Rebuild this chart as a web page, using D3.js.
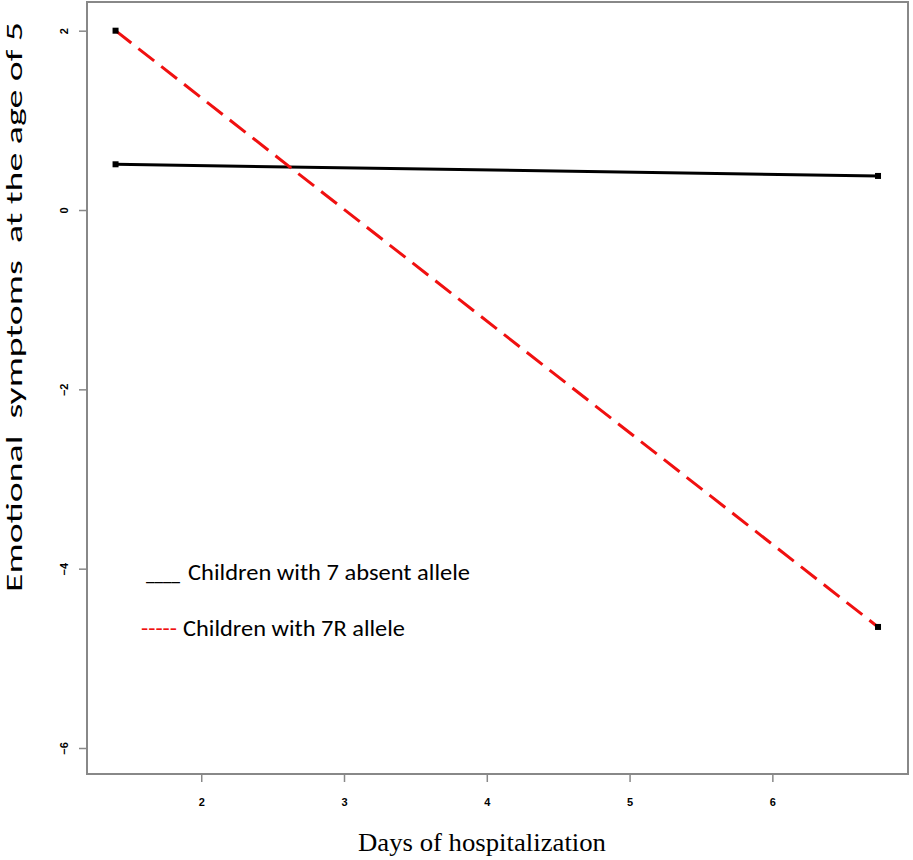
<!DOCTYPE html>
<html lang="en">
<head>
    <meta charset="UTF-8">
    <title>Emotional symptoms</title>
    <script src="https://cdn.jsdelivr.net/npm/d3@7"></script>
    <style>
        body { margin: 0; background: #fff; }
    </style>
</head>
<body>
<script type="text/javascript">
    // data
    var groups = ['Children with 7 absent allele', 'Children with 7R allele'];
    var days = [1.4, 6.74];
    var absentValues = [0.51, 0.38];
    var sevenRValues = [2.0, -4.65];
    var xTicks = [2, 3, 4, 5, 6];
    var yTicks = [2, 0, -2, -4, -6];

    var width = 913;
    var height = 860;
    var margin = {left: 87, top: 2, right: 5, bottom: 86};

    var svg = d3.select('body').append('svg')
            .attr('width', width)
            .attr('height', height);

    var x = d3.scaleLinear()
            .domain([1.2, 6.95])
            .range([margin.left, width - margin.right]);
    var y = d3.scaleLinear()
            .domain([-6.29, 2.32])
            .range([height - margin.bottom, margin.top]);

    // plot frame
    svg.append('rect')
            .attr('x', x.range()[0])
            .attr('y', y.range()[1])
            .attr('width', x.range()[1] - x.range()[0])
            .attr('height', y.range()[0] - y.range()[1])
            .attr('fill', 'none')
            .attr('stroke', '#888')
            .attr('stroke-width', 2);

    var xAxis = svg.append('g')
            .attr('transform', 'translate(0,' + y.range()[0] + ')')
            .call(d3.axisBottom(x).tickValues(xTicks).tickSize(8).tickPadding(16).tickFormat(d3.format('d')));
    var yAxis = svg.append('g')
            .attr('transform', 'translate(' + x.range()[0] + ',0)')
            .call(d3.axisLeft(y).tickValues(yTicks).tickSize(8).tickFormat(d3.format('d')));

    [xAxis, yAxis].forEach(function (g) {
        g.select('.domain').remove();
        g.selectAll('.tick line').attr('stroke', '#888').attr('stroke-width', 1.5);
        g.selectAll('.tick text')
                .attr('fill', '#000')
                .attr('font-family', 'Liberation Sans, Arial, sans-serif')
                .attr('font-weight', 'bold')
                .attr('font-size', '11px');
    });
    yAxis.selectAll('.tick text')
            .attr('x', null).attr('dy', null)
            .attr('text-anchor', 'middle')
            .attr('transform', 'translate(-23,0) rotate(-90)')
            .attr('dy', '0.35em');

    // series
    var line = d3.line()
            .x(function (d) { return x(d[0]); })
            .y(function (d) { return y(d[1]); });
    var series = [
        {values: d3.zip(days, absentValues), color: '#000', dash: null},
        {values: d3.zip(days, sevenRValues), color: '#f01010', dash: '20,9'}
    ];
    svg.selectAll('path.series')
            .data(series)
            .enter()
            .append('path')
            .attr('class', 'series')
            .attr('d', function (d) { return line(d.values); })
            .attr('fill', 'none')
            .attr('stroke', function (d) { return d.color; })
            .attr('stroke-width', 3)
            .attr('stroke-dasharray', function (d) { return d.dash; });

    var points = [].concat(series[0].values, series[1].values);
    svg.selectAll('rect.pt')
            .data(points)
            .enter()
            .append('rect')
            .attr('class', 'pt')
            .attr('x', function (d) { return x(d[0]) - 3; })
            .attr('y', function (d) { return y(d[1]) - 3; })
            .attr('width', 6)
            .attr('height', 6)
            .attr('fill', '#000');

    // legend
    var legendFont = 'Carlito, Calibri, Lato, sans-serif';
    function legendText(txt, xPos, yPos, len, color) {
        svg.append('text')
                .attr('x', xPos).attr('y', yPos)
                .attr('font-family', legendFont)
                .attr('font-size', '23px')
                .attr('fill', color)
                .attr('textLength', len)
                .attr('lengthAdjust', 'spacingAndGlyphs')
                .text(txt);
    }
    legendText('____', 146, 580, 34, '#000');
    legendText(groups[0], 188, 580, 282, '#000');
    legendText('-----', 141, 636, 36, '#f01010');
    legendText(groups[1], 183, 636, 222, '#000');

    // axis titles
    svg.append('text')
            .attr('transform', 'translate(22,307) rotate(-90)')
            .attr('text-anchor', 'middle')
            .attr('font-family', legendFont)
            .attr('font-size', '22px')
            .attr('fill', '#000')
            .attr('textLength', 570)
            .attr('lengthAdjust', 'spacingAndGlyphs')
            .style('white-space', 'pre')
            .text('Emotional  symptoms  at the age of 5');
    svg.append('text')
            .attr('x', 482).attr('y', 851)
            .attr('text-anchor', 'middle')
            .attr('font-family', 'Liberation Serif, Times New Roman, serif')
            .attr('font-size', '26px')
            .attr('fill', '#000')
            .attr('textLength', 248)
            .attr('lengthAdjust', 'spacingAndGlyphs')
            .text('Days of hospitalization');
</script>
</body>
</html>
